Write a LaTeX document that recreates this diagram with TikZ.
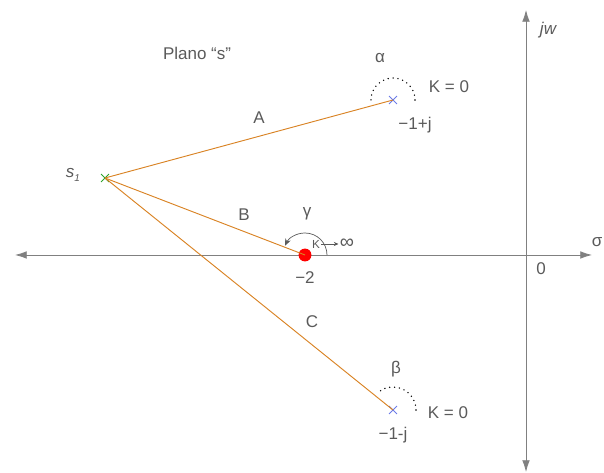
\documentclass[tikz,border=0pt]{standalone}
\usepackage{fontspec}
\setmainfont{Liberation Sans}
\usetikzlibrary{arrows.meta,shapes.misc}
\definecolor{txtgray}{HTML}{5A5A5A}
\definecolor{axgray}{HTML}{808080}
\definecolor{locus}{HTML}{D98324}
\definecolor{polecol}{HTML}{6A7BE8}
\definecolor{pointcol}{HTML}{2BA32B}
\begin{document}
\begin{tikzpicture}[x=0.03cm, y=0.03cm,
    lbl/.style={text=txtgray, inner sep=1pt, font=\fontsize{14.5}{17}\selectfont},
    pole/.style={cross out, draw=polecol, line width=0.8pt, minimum size=6pt, inner sep=0pt},
    axis/.style={draw=axgray, line width=0.7pt},
    branch/.style={draw=locus, line width=0.8pt},
    dotarc/.style={line width=1.3pt, dash pattern=on 0pt off 4.2pt, line cap=round}]
\useasboundingbox (0,0) rectangle (604,473);
% axes
\coordinate (xl) at (15,218);
\coordinate (xr) at (592,218);
\coordinate (yb) at (526,1);
\coordinate (yt) at (526,463);
\draw[axis, {Latex[length=10pt,width=6.5pt]}-{Latex[length=10pt,width=6.5pt]}] (xl) -- (xr);
\draw[axis, {Latex[length=10pt,width=6.5pt]}-{Latex[length=10pt,width=6.5pt]}] (yb) -- (yt);
\node[lbl, font=\fontsize{14.5}{17}\selectfont\itshape] (jw) at (548,443) {jw};
\node[lbl] (sigma) at (597,231) {σ};
\node[lbl] (orig) at (541,204) {0};
\node[lbl] (plano) at (197,420) {Plano “s”};
% points
\node[pole, draw=pointcol] (s1) at (105,295) {};
\node[lbl, font=\fontsize{14.5}{17}\selectfont\itshape] (s1lbl) at (73,298) {s\raisebox{-0.35ex}{\fontsize{8.5}{9}\selectfont 1}};
\node[pole] (p1) at (393,373) {};
\node[pole] (p2) at (393,63) {};
\node[circle, fill=red, minimum size=11pt, inner sep=0pt] (z2) at (305,218) {};
% branches
\draw[branch] (s1.center) -- (p1.center);
\draw[branch] (s1.center) -- (z2.center);
\draw[branch] (s1.center) -- (p2.center);
\node[lbl] (la) at (259,355) {A};
\node[lbl] (lb) at (244,258) {B};
\node[lbl] (lc) at (312,151) {C};
% angles
\draw[dotarc] ([xshift=22*0.03cm]p1.center) arc[start angle=0, end angle=190, radius=22];
\draw[dotarc] ([xshift=23*0.03cm]p2.center) arc[start angle=0, end angle=130, radius=23];
\draw[draw=txtgray, line width=0.6pt, -{Stealth[length=6pt,width=5pt]}] ([xshift=22*0.03cm]z2.center) arc[start angle=0, end angle=155, radius=22];
\node[lbl] (alpha) at (380,415) {α};
\node[lbl] (beta) at (396,104) {β};
\node[lbl] (gamma) at (307,259) {γ};
% labels
\node[lbl] (p1lbl) at (415,348) {−1+j};
\node[lbl] (p2lbl) at (393,38) {−1-j};
\node[lbl] (k1) at (449,386) {K = 0};
\node[lbl] (k2) at (448,60) {K = 0};
\node[lbl] (z2lbl) at (305,195) {−2};
\node[lbl, font=\fontsize{10}{11}\selectfont] (kinf) at (316,229) {K};
\node[lbl, font=\fontsize{17}{18}\selectfont] (inf) at (347,229) {∞};
\draw[draw=txtgray, line width=0.6pt, -{Stealth[length=4pt,width=3.5pt]}] (kinf.east) -- (inf.west);
\end{tikzpicture}
\end{document}
